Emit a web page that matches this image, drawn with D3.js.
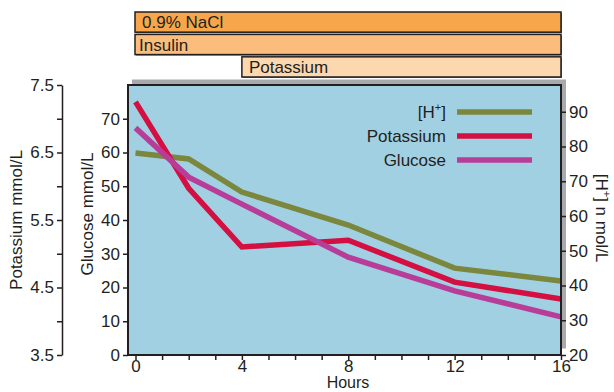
<!DOCTYPE html>
<html>
<head>
<meta charset="utf-8">
<script src="https://d3js.org/d3.v7.min.js"></script>
<style>
  body { margin: 0; background: #fff; }
  svg { font-family: "Liberation Sans", Arial, sans-serif; }
  text { fill: #231f20; }
</style>
</head>
<body>
<svg width="614" height="392"></svg>
<script>
// data
const hours = [0, 2, 4, 8, 12, 16];
const hPlus = [78.1, 76.4, 66.9, 57.4, 45.0, 41.3];      // nmol/L, right axis
const potassium = [7.25, 5.97, 5.1, 5.2, 4.58, 4.33];   // mmol/L, far left axis
const glucose = [67.3, 52.7, 44.7, 29.0, 19.0, 11.3];   // mmol/L, inner left axis

const therapies = ['0.9% NaCl', 'Insulin', 'Potassium'];
const therapyStart = [0, 0, 4];
const therapyEnd = [16, 16, 16];

const seriesNames = ['[H+]', 'Potassium', 'Glucose'];

const xTicks = [0, 4, 8, 12, 16];
const kTicks = [3.5, 4.5, 5.5, 6.5, 7.5];
const gTicks = [0, 10, 20, 30, 40, 50, 60, 70];
const hTicks = [20, 30, 40, 50, 60, 70, 80, 90];

const svg = d3.select('svg');

const x = d3.scaleLinear().domain([0, 16]).range([135.5, 561]);
const yK = d3.scaleLinear().domain([3.5, 7.5]).range([355, 85]);
const yG = d3.scaleLinear().domain([0, 80]).range([355, 85]);
const yH = d3.scaleLinear().domain([20, 97.7]).range([355, 85]);

// therapy bars on top
const barFill = ['#f7a64b', '#fabd7b', '#fdd7ae'];
const barY = d3.scaleBand().domain(therapies).range([12, 77]).paddingInner(0.1);
therapies.forEach((t, i) => {
  const x0 = i == 2 ? x(therapyStart[i]) : 135;
  svg.append('rect')
    .attr('x', x0 + 1).attr('y', barY(t) + 1)
    .attr('width', x(therapyEnd[i]) - x0).attr('height', barY.bandwidth())
    .attr('fill', '#6d6e71');
  svg.append('rect')
    .attr('x', x0).attr('y', barY(t))
    .attr('width', x(therapyEnd[i]) - x0).attr('height', barY.bandwidth())
    .attr('fill', barFill[i]).attr('stroke', '#231f20').attr('stroke-width', 1.5);
  svg.append('text')
    .attr('x', x0 + (i == 1 ? 4 : 7)).attr('y', barY(t) + barY.bandwidth() / 2 + 6)
    .attr('font-size', 17).text(t);
});

// plot box with grey shadow
svg.append('rect').attr('x', 132).attr('y', 79.5).attr('width', 434).attr('height', 269)
  .attr('fill', '#a7a9ac');
svg.append('rect').attr('x', 128).attr('y', 85).attr('width', 433).attr('height', 270)
  .attr('fill', '#a2d0e3').attr('stroke', '#231f20').attr('stroke-width', 2);

// lines
const colors = ['#7a873d', '#d40f41', '#b83d98'];
const line = y => d3.line().x((d, i) => x(hours[i])).y(d => y(d));
[[hPlus, yH], [potassium, yK], [glucose, yG]].forEach(([vals, y], i) => {
  svg.append('path').datum(vals)
    .attr('d', line(y))
    .attr('fill', 'none').attr('stroke', colors[i]).attr('stroke-width', 5.5)
    .attr('stroke-linejoin', 'miter');
});

// legend
const legY = d3.scalePoint().domain(seriesNames).range([112, 160]);
seriesNames.forEach((n, i) => {
  const t = svg.append('text').attr('x', 446).attr('y', legY(n) + 6)
    .attr('text-anchor', 'end').attr('font-size', 17);
  if (i == 0) {
    t.text('[H');
    t.append('tspan').attr('font-size', 11).attr('dy', -7).text('+');
    t.append('tspan').attr('dy', 7).text(']');
  } else t.text(n);
  svg.append('line').attr('x1', 457).attr('x2', 532)
    .attr('y1', legY(n)).attr('y2', legY(n))
    .attr('stroke', colors[i]).attr('stroke-width', 5.5);
});

// axes
function styleAxis(g) {
  g.select('.domain').attr('stroke', '#231f20').attr('stroke-width', 1.5);
  g.selectAll('.tick line').attr('stroke', '#231f20').attr('stroke-width', 1.5);
  g.selectAll('.tick text').attr('font-size', 17).attr('fill', '#231f20')
    .attr('font-family', '"Liberation Sans", Arial, sans-serif');
}

// potassium axis (far left)
svg.append('g').attr('transform', 'translate(62,0)')
  .call(d3.axisLeft(yK).tickValues(d3.range(3.5, 7.51, 0.5)).tickSize(5).tickSizeOuter(0)
    .tickFormat(d => kTicks.includes(d) ? d3.format('.1f')(d) : ''))
  .call(styleAxis);

// glucose axis
svg.append('g').attr('transform', 'translate(128,0)')
  .call(d3.axisLeft(yG).tickValues(gTicks).tickSize(5).tickSizeOuter(0))
  .call(g => g.select('.domain').remove())
  .call(styleAxis);

// H+ axis (right)
svg.append('g').attr('transform', 'translate(561,0)')
  .call(d3.axisRight(yH).tickValues(hTicks).tickSize(5).tickSizeOuter(0))
  .call(g => g.select('.domain').remove())
  .call(styleAxis);
svg.append('line').attr('x1', 561).attr('x2', 561).attr('y1', 85).attr('y2', 355)
  .attr('stroke', '#231f20').attr('stroke-width', 2);

// hours axis
svg.append('g').attr('transform', 'translate(0,355)')
  .call(d3.axisBottom(x).tickValues(d3.range(0, 17, 1)).tickSize(5).tickSizeOuter(0)
    .tickFormat(d => xTicks.includes(d) ? d : ''))
  .call(g => g.select('.domain').remove())
  .call(styleAxis)
  .call(g => g.selectAll('.tick text').attr('dy', '0.5em'));

// axis titles
svg.append('text').attr('transform', 'translate(22,220) rotate(-90)')
  .attr('text-anchor', 'middle').attr('font-size', 17).text('Potassium mmol/L');
svg.append('text').attr('transform', 'translate(93,214) rotate(-90)')
  .attr('text-anchor', 'middle').attr('font-size', 17).text('Glucose mmol/L');
const ht = svg.append('text').attr('transform', 'translate(596,218) rotate(90)')
  .attr('text-anchor', 'middle').attr('font-size', 17);
ht.append('tspan').text('[H');
ht.append('tspan').attr('font-size', 11).attr('dy', -7).text('+');
ht.append('tspan').attr('dy', 7).text('] n mol/L');
svg.append('text').attr('x', 348).attr('y', 388)
  .attr('text-anchor', 'middle').attr('font-size', 16).text('Hours');
</script>
</body>
</html>
